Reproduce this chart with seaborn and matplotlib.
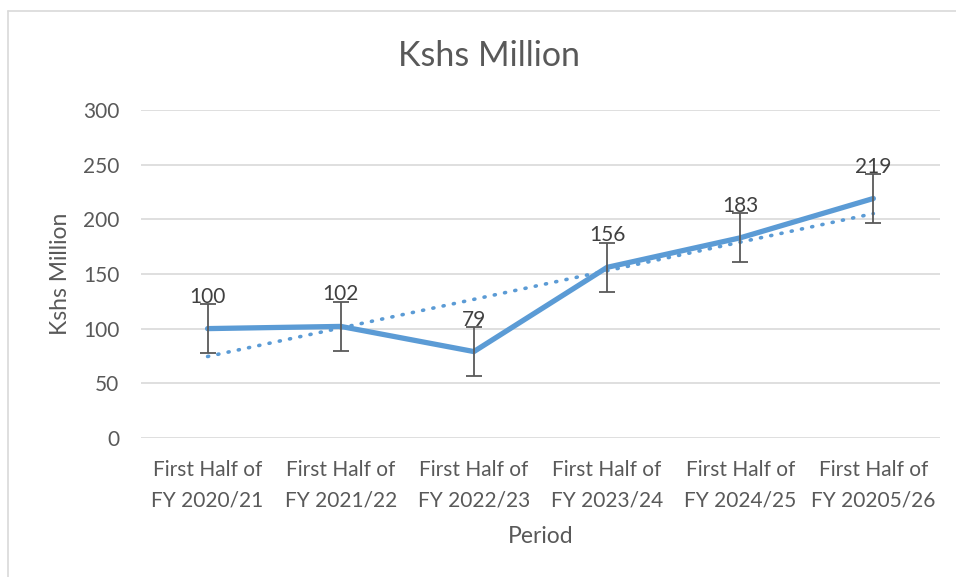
import numpy as np
import pandas as pd
import matplotlib
matplotlib.use("Agg")
import matplotlib.pyplot as plt
import seaborn as sns
from matplotlib.lines import Line2D

# data
periods = ["First Half of\nFY 2020/21", "First Half of\nFY 2021/22", "First Half of\nFY 2022/23",
           "First Half of\nFY 2023/24", "First Half of\nFY 2024/25", "First Half of\nFY 20205/26"]
values = [100, 102, 79, 156, 183, 219]
y_ticks = [0, 50, 100, 150, 200, 250, 300]

df = pd.DataFrame({"x": np.arange(len(periods)), "Period": periods, "Value": values})

# excel style standard error bars + linear trendline
std_err = np.std(values, ddof=1) / np.sqrt(len(values))
slope, icpt = np.polyfit(df["x"] + 1, df["Value"], 1)
df["Trend"] = slope * (df["x"] + 1) + icpt

sns.set_theme(style="white")
plt.rcParams['font.family'] = ['Lato', 'DejaVu Sans']

blue = "#5B9BD5"
grey = "#595959"

fig = plt.figure(figsize=(9.56, 5.77), dpi=100)
ax = fig.add_axes([0.1475, 0.241, 0.8357, 0.5685])

for t in y_ticks:
    ax.axhline(t, color="#D9D9D9", lw=1.2, zorder=0)

sns.lineplot(data=df, x="x", y="Trend", ax=ax, color=blue, lw=2.6, linestyle=(0, (0.3, 2.6)),
             dash_capstyle="round", zorder=2)
sns.lineplot(data=df, x="x", y="Value", ax=ax, color=blue, lw=3.8, zorder=3,
             solid_capstyle="round")
ax.errorbar(df["x"], df["Value"], yerr=std_err, fmt="none", ecolor=grey, elinewidth=1.3,
            capsize=6, capthick=1.3, zorder=4)

for xi, v in zip(df["x"], values):
    ax.annotate(str(v), (xi, v), xytext=(0, 23), textcoords="offset points", ha="center",
                va="center", fontsize=15, color="#404040", zorder=5)

ax.set_xlim(-0.5, len(periods) - 0.5)
ax.set_ylim(0, 300)
ax.set_yticks(y_ticks)
ax.set_yticklabels([str(t) for t in y_ticks], fontsize=15, color=grey)
ax.set_xticks(df["x"])
ax.set_xticklabels(periods, fontsize=15, color=grey, linespacing=1.65)
ax.tick_params(axis="y", length=0, pad=15.5)
ax.tick_params(axis="x", length=0, pad=16)
for s in ax.spines.values():
    s.set_visible(False)

ax.set_xlabel("Period", fontsize=16.5, color=grey, labelpad=11)
ax.set_ylabel("Kshs Million", fontsize=16.5, color=grey, labelpad=9)
fig.text(0.511, 0.903, "Kshs Million", ha="center", va="center", fontsize=24.5, color=grey)

# chart border (partly cropped)
fig.add_artist(Line2D([8/956, 1.0], [1 - 11/577] * 2, color="#D9D9D9", lw=1.2))
fig.add_artist(Line2D([8/956] * 2, [0.0, 1 - 11/577], color="#D9D9D9", lw=1.2))

fig.savefig("out.png", dpi=100, facecolor="white")
